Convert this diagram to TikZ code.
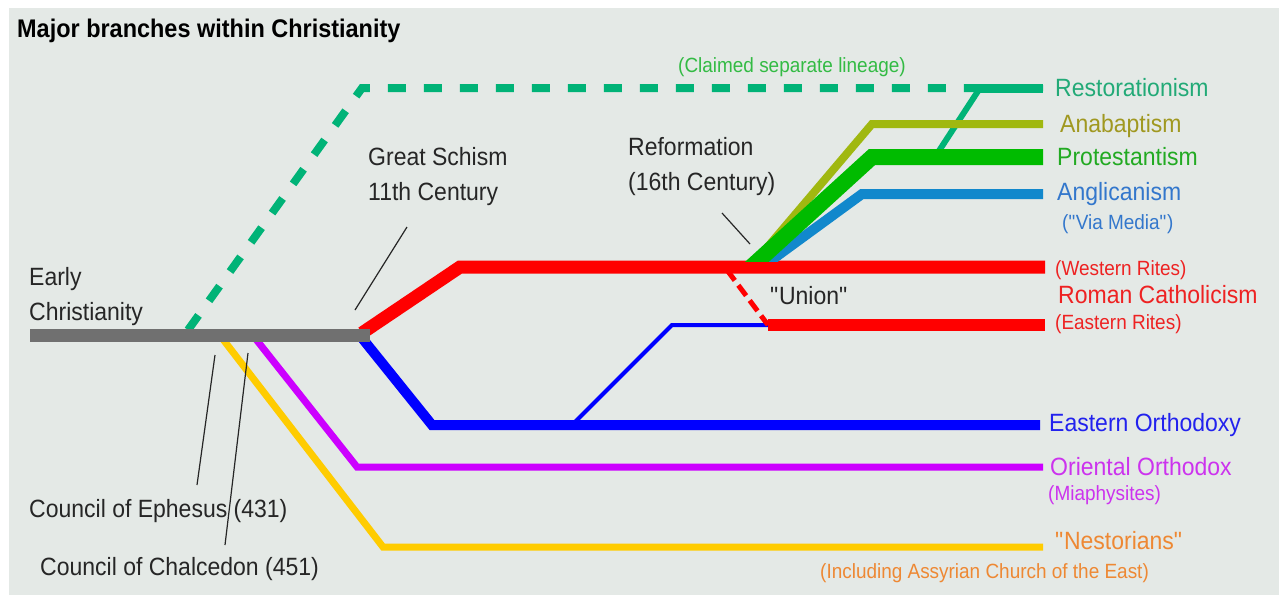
\documentclass[tikz,border=0pt]{standalone}
\usepackage{fontspec}
\setmainfont{Liberation Sans}[FakeStretch=0.92]
\usetikzlibrary{positioning}

\definecolor{bgcol}{HTML}{E4E9E6}
\definecolor{trunkcol}{HTML}{707070}
\definecolor{restcol}{HTML}{00B377}
\definecolor{resttxt}{HTML}{22AA77}
\definecolor{claimtxt}{HTML}{33BB44}
\definecolor{anacol}{HTML}{A0B810}
\definecolor{anatxt}{HTML}{A09820}
\definecolor{protcol}{HTML}{00BB00}
\definecolor{prottxt}{HTML}{22AA22}
\definecolor{anglcol}{HTML}{1188CC}
\definecolor{angltxt}{HTML}{3377CC}
\definecolor{romecol}{HTML}{FF0000}
\definecolor{rometxt}{HTML}{EE2222}
\definecolor{orthcol}{HTML}{0000FF}
\definecolor{orthtxt}{HTML}{2222EE}
\definecolor{oriecol}{HTML}{CC00FF}
\definecolor{orietxt}{HTML}{CC33EE}
\definecolor{nestcol}{HTML}{FFCC00}
\definecolor{nesttxt}{HTML}{EE8833}

\newcommand{\qq}[1]{\textquotedbl#1\textquotedbl}

\begin{document}
\begin{tikzpicture}[x=1pt,y=-1pt,line join=miter,
    lbl/.style={anchor=base west,inner sep=0pt,font=\fontsize{25}{35}\selectfont},
    sub/.style={anchor=base west,inner sep=0pt,font=\fontsize{20.6}{22}\selectfont},
    lead/.style={draw=black!85,line width=1.2pt}]

    \useasboundingbox (0,0) rectangle (1284,595);
    \fill [bgcol] (9,8) rectangle (1279,595);

    % Title
    \node [anchor=base west,inner sep=0pt,font=\fontsize{25.5}{26}\selectfont\bfseries] (title) at (17,37) {Major branches within Christianity};

    % Branch points
    \coordinate (ecStart) at (30,335);
    \coordinate (schism) at (370,335);
    \coordinate (restFork) at (188,330);
    \coordinate (restTop) at (362,88);
    \coordinate (restJoin) at (980,88);
    \coordinate (restEnd) at (1043,88);
    \coordinate (restRoot) at (935,157);
    \coordinate (romeStart) at (362,333);
    \coordinate (romeBend) at (460,267);
    \coordinate (romeEnd) at (1045,267);
    \coordinate (unionTop) at (727,270);
    \coordinate (unionBot) at (768,325);
    \coordinate (easternEnd) at (1045,325);
    \coordinate (orthStart) at (362,338);
    \coordinate (orthBend) at (432,425);
    \coordinate (orthFork) at (572,425);
    \coordinate (orthEnd) at (1040,425);
    \coordinate (unionBend) at (672,325);
    \coordinate (orieStart) at (255,338);
    \coordinate (orieBend) at (357,467);
    \coordinate (orieEnd) at (1043,467);
    \coordinate (nestStart) at (222,338);
    \coordinate (nestBend) at (383,547);
    \coordinate (nestEnd) at (1043,547);
    \coordinate (reform) at (748,270);
    \coordinate (anaBend) at (872,124);
    \coordinate (anaEnd) at (1043,124);
    \coordinate (protBend) at (872,157);
    \coordinate (protEnd) at (1043,157);
    \coordinate (anglStart) at (758,270);
    \coordinate (anglBend) at (862,194);
    \coordinate (anglEnd) at (1043,194);

    % Claimed separate lineage
    \draw [restcol,line width=8pt,dash pattern=on 18pt off 18pt] (restFork) -- (restTop) -- (restJoin);

    % Nestorians and Oriental Orthodox
    \draw [nestcol,line width=7pt] (nestStart) -- (nestBend) -- (nestEnd);
    \draw [oriecol,line width=7pt] (orieStart) -- (orieBend) -- (orieEnd);

    % Eastern Orthodoxy
    \draw [orthcol,line width=10pt] (orthStart) -- (orthBend) -- (orthEnd);
    \draw [orthcol,line width=4pt] (orthFork) -- (unionBend) -- (unionBot);

    % Roman Catholicism
    \draw [romecol,line width=13pt] (romeStart) -- (romeBend) -- (romeEnd);
    \draw [romecol,line width=12pt] (unionBot) -- (easternEnd);
    \draw [romecol,line width=5pt,dash pattern=on 13pt off 6pt] (unionTop) -- (unionBot);

    % Early Christianity
    \draw [trunkcol,line width=13pt] (ecStart) -- (schism);

    % Reformation branches
    \begin{scope}
        \clip (600,0) rectangle (1284,261);
        \draw [restcol,line width=6pt] (restRoot) -- (restJoin) -- (restEnd);
        \draw [anacol,line width=8pt] (reform) -- (anaBend) -- (anaEnd);
        \draw [anglcol,line width=10pt] (anglStart) -- (anglBend) -- (anglEnd);
        \draw [protcol,line width=16pt] (reform) -- (protBend) -- (protEnd);
        \draw [restcol,line width=9pt] (restJoin) -- (restEnd);
    \end{scope}

    % Branch labels
    \node [sub,text=claimtxt] (claimed) at (678,72) {(Claimed separate lineage)};
    \node [lbl,text=resttxt] (rest) at (1055,96) {Restorationism};
    \node [lbl,text=anatxt] (ana) at (1060,132) {Anabaptism};
    \node [lbl,text=prottxt] (prot) at (1057,165) {Protestantism};
    \node [lbl,text=angltxt] (angl) at (1057,200) {Anglicanism};
    \node [sub,text=angltxt] (via) at (1062,229) {(\qq{Via Media})};
    \node [sub,text=rometxt] (western) at (1055,275) {(Western Rites)};
    \node [lbl,text=rometxt] (rome) at (1058,303) {Roman Catholicism};
    \node [sub,text=rometxt] (eastern) at (1055,329) {(Eastern Rites)};
    \node [lbl,text=orthtxt] (orth) at (1049,431) {Eastern Orthodoxy};
    \node [lbl,text=orietxt] (orie) at (1050,475) {Oriental Orthodox};
    \node [sub,text=orietxt] (miaph) at (1048,500) {(Miaphysites)};
    \node [lbl,text=nesttxt] (nest) at (1055,549) {\qq{Nestorians}};
    \node [sub,text=nesttxt] (assyr) at (820,578) {(Including Assyrian Church of the East)};

    % Event labels (base = last line)
    \node [lbl,align=left,text=black!85] (early) at (29,320) {Early\\Christianity};
    \node [lbl,align=left,text=black!85] (great) at (368,200) {Great Schism\\11th Century};
    \node [lbl,align=left,text=black!85] (reformation) at (628,190) {Reformation\\(16th Century)};
    \node [lbl,text=black!85] (union) at (770,304) {\qq{Union}};
    \node [lbl,text=black!85] (ephesus) at (29,517) {Council of Ephesus (431)};
    \node [lbl,text=black!85] (chalcedon) at (40,575) {Council of Chalcedon (451)};

    % Leader lines
    \coordinate (greatTip) at (407,227);
    \coordinate (greatEnd) at (355,310);
    \coordinate (reformTip) at (722,213);
    \coordinate (reformEnd) at (750,244);
    \coordinate (ephesusTip) at (197,485);
    \coordinate (ephesusEnd) at (215,355);
    \coordinate (chalcedonTip) at (225,545);
    \coordinate (chalcedonEnd) at (248,353);
    \draw [lead] (greatTip) -- (greatEnd);
    \draw [lead] (reformTip) -- (reformEnd);
    \draw [lead] (ephesusTip) -- (ephesusEnd);
    \draw [lead] (chalcedonTip) -- (chalcedonEnd);

\end{tikzpicture}
\end{document}
